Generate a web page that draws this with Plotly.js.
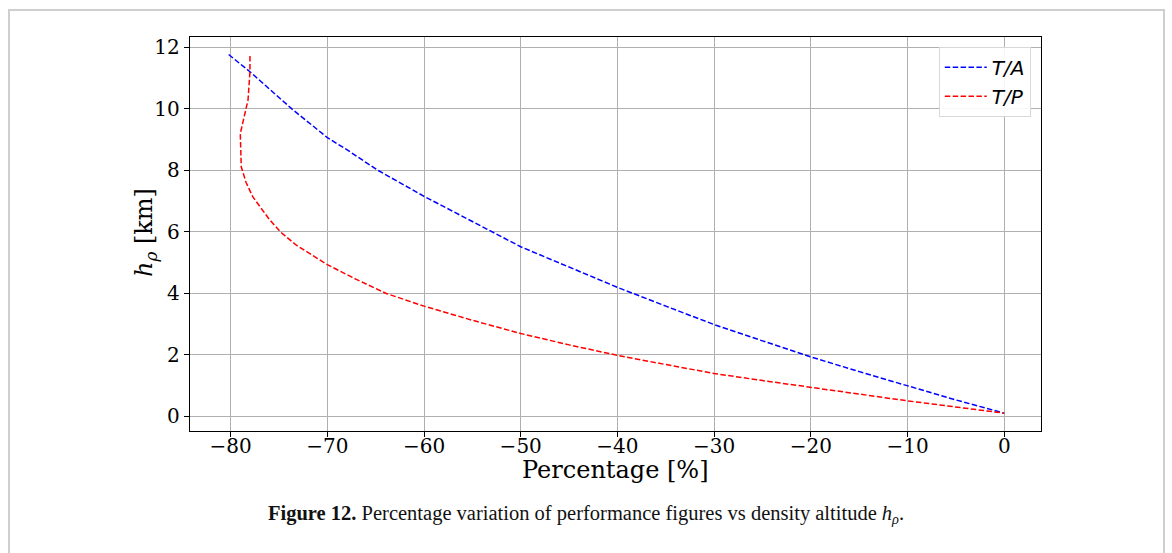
<!DOCTYPE html>
<html>
<head>
<meta charset="utf-8">
<script src="https://cdn.plot.ly/plotly-3.0.1.min.js"></script>
<style>
html,body{margin:0;padding:0;background:#fff;}
#frame{position:absolute;left:8px;top:9px;width:1157px;height:560px;border:2px solid #cfcfcf;border-bottom:none;box-sizing:border-box;}
#chart{position:absolute;left:0;top:0;width:1172px;height:553px;}
</style>
</head>
<body>
<div id="frame"></div>
<div id="chart"></div>
<script>
// T/A series (percentage, altitude km)
const taPct = [-80.2, -78.0, -73.7, -70.0, -67.9, -64.8, -60.0, -55.5, -52.2, -50.0, -45.0, -40.0, -35.0, -30.0, -25.0, -20.0, -15.0, -10.0, -5.0, 0.0];
const taAlt = [11.76, 11.2, 10.0, 9.06, 8.65, 8.0, 7.15, 6.4, 5.86, 5.51, 4.85, 4.19, 3.58, 2.98, 2.45, 1.93, 1.45, 0.98, 0.53, 0.1];
// T/P series
const tpPct = [-78.0, -78.0, -78.2, -78.7, -79.0, -78.9, -78.4, -77.7, -76.0, -74.8, -73.2, -70.0, -67.0, -63.9, -60.0, -55.0, -50.0, -45.0, -40.0, -35.0, -30.0, -25.0, -20.0, -15.0, -10.0, -5.0, 0.0];
const tpAlt = [11.71, 11.2, 10.28, 9.6, 9.19, 8.11, 7.6, 7.13, 6.4, 5.98, 5.56, 4.93, 4.45, 3.99, 3.58, 3.12, 2.69, 2.32, 1.98, 1.68, 1.39, 1.16, 0.95, 0.72, 0.5, 0.29, 0.1];
const xTicks = [-80, -70, -60, -50, -40, -30, -20, -10, 0];
const yTicks = [0, 2, 4, 6, 8, 10, 12];
const seriesNames = ['<i>T/A</i>', '<i>T/P</i>'];

const serif = 'DejaVu Serif, serif';
const traces = [
  {x: taPct, y: taAlt, name: seriesNames[0], mode: 'lines', type: 'scatter',
   line: {color: '#0000ff', width: 1.5, dash: '5.5px,2.4px'}},
  {x: tpPct, y: tpAlt, name: seriesNames[1], mode: 'lines', type: 'scatter',
   line: {color: '#ff0000', width: 1.5, dash: '5.5px,2.4px'}}
];
const axisCommon = {
  showline: true, mirror: true, linecolor: '#000', linewidth: 1.2,
  ticks: 'outside', ticklen: 5, tickwidth: 1, tickcolor: '#000',
  showgrid: true, gridcolor: '#b0b0b0', gridwidth: 1, zeroline: false,
  tickfont: {family: serif, size: 20, color: '#000'}
};
const layout = {
  width: 1172, height: 553,
  paper_bgcolor: 'rgba(0,0,0,0)', plot_bgcolor: '#fff',
  margin: {l: 190, r: 131, t: 37, b: 122},
  showlegend: true,
  legend: {x: 0.988, y: 0.975, xanchor: 'right', yanchor: 'top',
    bgcolor: 'rgba(255,255,255,0.9)', bordercolor: '#d8d8d8', borderwidth: 1,
    itemwidth: 42, tracegroupgap: 4,
    font: {family: 'DejaVu Sans, sans-serif', size: 20, color: '#000'}},
  xaxis: Object.assign({}, axisCommon, {
    range: [-84.2, 3.8], tickvals: xTicks, ticklabelstandoff: -8
  }),
  yaxis: Object.assign({}, axisCommon, {
    range: [-0.48, 12.33], tickvals: yTicks
  }),
  annotations: [
    {xref: 'paper', yref: 'paper', x: 0.5, y: -0.1, xanchor: 'center', yanchor: 'middle',
     showarrow: false, text: 'Percentage [%]',
     font: {family: serif, size: 24, color: '#000'}},
    {xref: 'paper', yref: 'paper', x: -0.0529, y: 0.505, xanchor: 'center', yanchor: 'middle',
     showarrow: false, textangle: -90, text: '<i>h</i><sub><i>ρ</i></sub> [km]',
     font: {family: serif, size: 24, color: '#000'}},
    {xref: 'paper', yref: 'paper', x: 0.465, y: -0.213, xanchor: 'center', yanchor: 'middle',
     showarrow: false,
     text: '<b>Figure 12.</b> Percentage variation of performance figures vs density altitude <i>h</i><sub><i>ρ</i></sub>.',
     font: {family: 'Liberation Serif, serif', size: 20.5, color: '#111'}}
  ]
};
Plotly.newPlot('chart', traces, layout, {displayModeBar: false, staticPlot: true});
</script>
</body>
</html>
